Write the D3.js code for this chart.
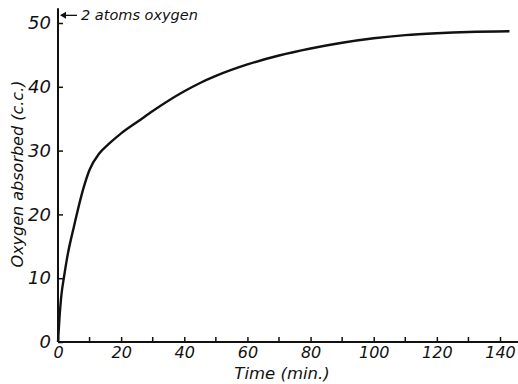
<!DOCTYPE html>
<html>
<head>
<meta charset="utf-8">
<script src="https://cdn.jsdelivr.net/npm/d3@7"></script>
<style>
  body { margin: 0; background: #fff; }
  svg text { font-family: "DejaVu Sans", sans-serif; font-style: italic; fill: #111; }
</style>
</head>
<body>
<div id="viz"></div>
<script>
"use strict";
(function(){
    // values
    const timeMin = [0, 0.5, 1, 2, 3, 5, 8, 10, 13, 16, 20, 26, 30, 40, 45, 50, 60, 70, 80, 90, 100, 110, 120, 130, 143]
    const oxygenCC = [0, 4, 7, 10.5, 13.5, 18, 24, 27, 29.5, 31, 32.7, 34.8, 36.2, 39.3, 40.6, 41.7, 43.5, 44.9, 46, 46.9, 47.6, 48.1, 48.4, 48.6, 48.7]
    const xTickLabels = [0, 20, 40, 60, 80, 100, 120, 140]
    const xMinorTicks = [10, 30, 50, 70, 90, 110, 130]
    const yTickLabels = [0, 10, 20, 30, 40, 50]
    const twoAtomsLevel = 51.2

    const measurements = { width: 518, height: 384 }

    const svg = d3.select('#viz').append('svg')
        .attr('width', measurements.width)
        .attr('height', measurements.height)

    const scaleX = d3.scaleLinear().domain([0, 140]).range([58, 500])
    const scaleY = d3.scaleLinear().domain([0, 50]).range([342, 23])

    // axis lines
    svg.append('line')
        .attr('x1', scaleX(0)).attr('x2', scaleX(146))
        .attr('y1', scaleY(0)).attr('y2', scaleY(0))
        .attr('stroke', '#111').attr('stroke-width', 2)
    svg.append('line')
        .attr('x1', scaleX(0)).attr('x2', scaleX(0))
        .attr('y1', scaleY(0)).attr('y2', scaleY(52.3))
        .attr('stroke', '#111').attr('stroke-width', 2)

    // x axis: inward ticks, labels below
    const xAxis = svg.append('g')
        .attr('transform', 'translate(0,' + scaleY(0) + ')')
        .call(d3.axisBottom(scaleX).tickValues(xTickLabels).tickSizeInner(-5).tickSizeOuter(0).tickPadding(5))
    xAxis.select('.domain').remove()
    xAxis.selectAll('.tick line').attr('stroke', '#111').attr('stroke-width', 1.5)
    xAxis.selectAll('.tick text').attr('font-size', 16)

    svg.append('g')
        .attr('transform', 'translate(0,' + scaleY(0) + ')')
        .selectAll('line')
        .data(xMinorTicks)
        .enter()
        .append('line')
            .attr('x1', d => scaleX(d)).attr('x2', d => scaleX(d))
            .attr('y1', 0).attr('y2', -5)
            .attr('stroke', '#111').attr('stroke-width', 1.5)

    // y axis: inward ticks, labels left
    const yAxis = svg.append('g')
        .attr('transform', 'translate(' + scaleX(0) + ',0)')
        .call(d3.axisLeft(scaleY).tickValues(yTickLabels).tickSizeInner(-5).tickSizeOuter(0).tickPadding(7))
    yAxis.select('.domain').remove()
    yAxis.selectAll('.tick line').attr('stroke', '#111').attr('stroke-width', 1.5)
    yAxis.selectAll('.tick text').attr('font-size', 18)

    // the curve
    const points = timeMin.map((t, i) => [t, oxygenCC[i]])
    svg.append('path')
        .datum(points)
        .attr('fill', 'none')
        .attr('stroke', '#111')
        .attr('stroke-width', 2.4)
        .attr('d', d3.line()
            .x(d => scaleX(d[0]))
            .y(d => scaleY(d[1]))
            .curve(d3.curveMonotoneX))

    // annotation: 2 atoms oxygen
    const yAnn = scaleY(twoAtomsLevel)
    svg.append('line')
        .attr('x1', scaleX(0) + 3).attr('x2', scaleX(0) + 19)
        .attr('y1', yAnn).attr('y2', yAnn)
        .attr('stroke', '#111').attr('stroke-width', 1.3)
    svg.append('path')
        .attr('d', 'M' + (scaleX(0) + 2) + ',' + yAnn + 'l6,-3.5l0,7z')
        .attr('fill', '#111')
    svg.append('text')
        .attr('x', scaleX(0) + 23)
        .attr('y', yAnn + 5)
        .attr('font-size', 14.5)
        .text('2 atoms oxygen')

    // axis titles
    svg.append('text')
        .attr('x', 282)
        .attr('y', 379)
        .attr('text-anchor', 'middle')
        .attr('font-size', 16.5)
        .text('Time (min.)')

    svg.append('text')
        .attr('transform', 'translate(23,' + 174 + ') rotate(270)')
        .attr('text-anchor', 'middle')
        .attr('font-size', 16)
        .text('Oxygen absorbed (c.c.)')
})()
</script>
</body>
</html>
